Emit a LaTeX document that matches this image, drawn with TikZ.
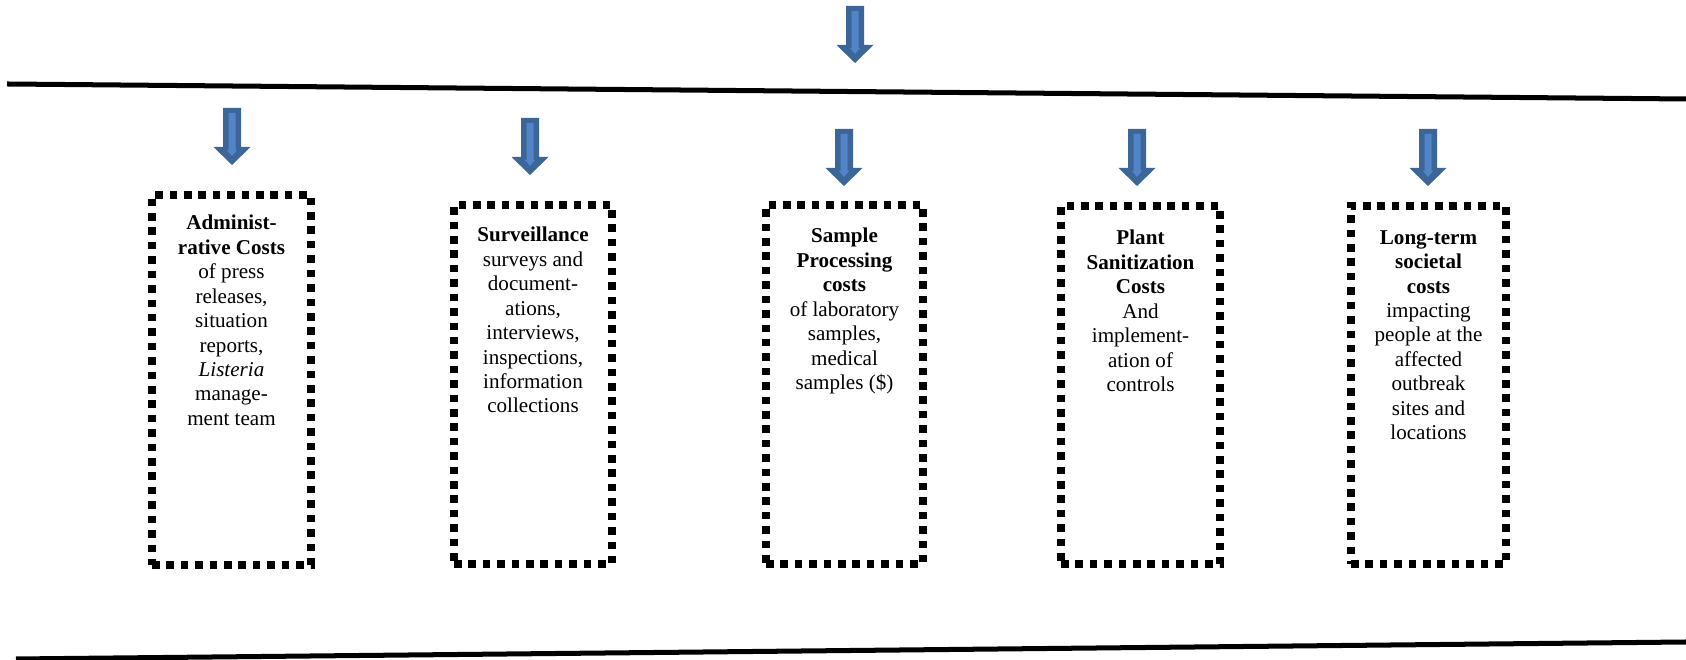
\documentclass[tikz,border=0pt]{standalone}
\usepackage{fontspec}
\setmainfont{Liberation Serif}
\usetikzlibrary{calc,positioning}
\definecolor{arrowdark}{RGB}{60,101,152}
\definecolor{arrowlight}{RGB}{82,133,200}
\def\mycolora{arrowdark}
\def\mycolorb{arrowlight}

\begin{document}
\begin{tikzpicture}
\tikzstyle{divider}=[line width=2.85pt, color=black]
\tikzstyle{costbox}=[draw, line width=4.5pt, dash pattern=on 4.3pt off 3.9pt, inner sep=0pt, outer sep=0pt, minimum width=3.16cm, minimum height=7.18cm]
\tikzstyle{costtext}=[inner sep=0pt, align=center, font={\fontsize{12}{13.9}\selectfont}]
\tikzstyle{arrowbody}=[fill=\mycolora]
\tikzstyle{arrowcore}=[fill=\mycolorb]

\useasboundingbox (0,0) rectangle (33.72,13.2);

% long rules
\coordinate (topleft) at (0.14,11.52);
\coordinate (topright) at (33.72,11.22);
\coordinate (botleft) at (0.32,0.02);
\coordinate (botright) at (33.72,0.36);
\draw [divider] (topleft) -- (topright);
\draw [divider] (botleft) -- (botright);

% cost boxes
\node (adm) [costbox, minimum width=3.18cm, minimum height=7.40cm] at (4.63,5.60) {};
\node (surv) [costbox] at (10.66,5.51) {};
\node (samp) [costbox, minimum width=3.14cm] at (16.89,5.51) {};
\node (plant) [costbox, minimum width=3.18cm, minimum height=7.16cm] at (22.81,5.50) {};
\node (soc) [costbox, minimum width=3.10cm, minimum height=7.16cm] at (28.57,5.50) {};

\node (admtxt) [costtext, below=0.40cm of adm.north] {\textbf{Administ-}\\\textbf{rative Costs}\\of press\\releases,\\situation\\reports,\\\textit{Listeria}\\manage-\\ment team};
\node (survtxt) [costtext, below=0.44cm of surv.north] {\textbf{Surveillance}\\surveys and\\document-\\ations,\\interviews,\\inspections,\\information\\collections};
\node (samptxt) [costtext, below=0.46cm of samp.north] {\textbf{Sample}\\\textbf{Processing}\\\textbf{costs}\\of laboratory\\samples,\\medical\\samples (\$)};
\node (planttxt) [costtext, below=0.48cm of plant.north] {\textbf{Plant}\\\textbf{Sanitization}\\\textbf{Costs}\\And\\implement-\\ation of\\controls};
\node (soctxt) [costtext, below=0.48cm of soc.north] {\textbf{Long-term}\\\textbf{societal}\\\textbf{costs}\\impacting\\people at the\\affected\\outbreak\\sites and\\locations};

% block arrows
\coordinate (arr0) at (17.10,13.08);
\coordinate (arr1) at (4.64,11.04);
\coordinate (arr2) at (10.60,10.84);
\coordinate (arr3) at (16.88,10.62);
\coordinate (arr4) at (22.74,10.62);
\coordinate (arr5) at (28.56,10.62);

\foreach \a in {arr0,arr1,arr2,arr3,arr4,arr5} {
  \fill [arrowbody] (\a) ++(-0.18,0) -- ++(0,-0.78) -- ++(-0.19,0) -- ++(0.37,-0.36) -- ++(0.37,0.36) -- ++(-0.19,0) -- ++(0,0.78) -- cycle;
  \fill [arrowcore] (\a) ++(-0.07,-0.1) -- ++(0,-0.74) -- ++(-0.03,0) -- ++(0.1,-0.12) -- ++(0.1,0.12) -- ++(-0.03,0) -- ++(0,0.74) -- cycle;
}

\end{tikzpicture}
\end{document}
